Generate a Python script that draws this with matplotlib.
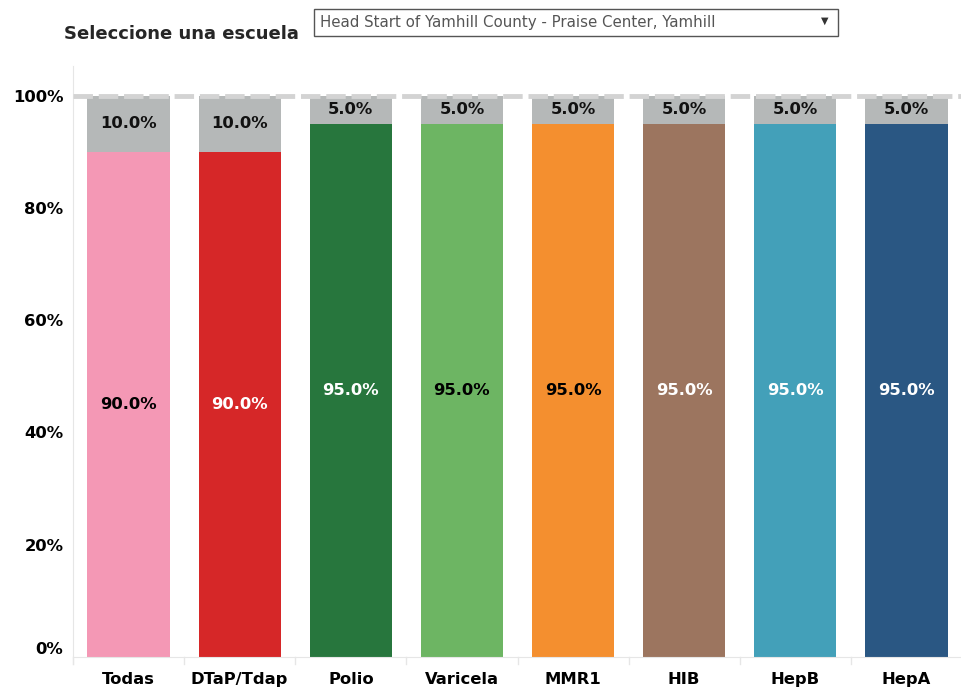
import matplotlib.pyplot as plt
from matplotlib.patches import Rectangle

# vaccine coverage for the selected school
vacunas = ['Todas', 'DTaP/Tdap', 'Polio', 'Varicela', 'MMR1', 'HIB', 'HepB', 'HepA']
completas = [90.0, 90.0, 95.0, 95.0, 95.0, 95.0, 95.0, 95.0]
faltantes = [10.0, 10.0, 5.0, 5.0, 5.0, 5.0, 5.0, 5.0]

colores = ['#F498B5', '#D62728', '#27763D', '#6DB563', '#F48F2F', '#9C755F', '#43A0B9', '#2A5783']
color_texto = ['black', 'white', 'white', 'black', 'black', 'white', 'white', 'white']
gris = '#B5B8B8'

plt.rcParams['font.family'] = ['DejaVu Sans']

fig = plt.figure(figsize=(9.62, 6.87), dpi=100)
ax = fig.add_axes([73 / 962, 30 / 687, 889 / 962, 591 / 687])

x = list(range(len(vacunas)))
ax.bar(x, completas, width=0.74, color=colores, zorder=2)
ax.bar(x, faltantes, width=0.74, bottom=completas, color=gris, zorder=2)

for i in x:
    ax.text(i, completas[i] / 2, f'{completas[i]:.1f}%', ha='center', va='center',
            fontsize=11.8, fontweight='bold', color=color_texto[i], zorder=3)
    ax.text(i, completas[i] + faltantes[i] / 2, f'{faltantes[i]:.1f}%', ha='center', va='center',
            fontsize=11.8, fontweight='bold', color='#111111', zorder=3)

ax.axhline(100, color='#D3D3D3', lw=3.5, ls=(0, (4, 1.2)), zorder=4)

ax.set_xlim(-0.5, len(vacunas) - 0.5)
ax.set_ylim(0, 105.3)
ax.set_yticks([0, 20, 40, 60, 80, 100])
ax.set_yticklabels(['0%', '20%', '40%', '60%', '80%', '100%'], fontsize=11.8, fontweight='bold')
ax.get_yticklabels()[0].set_va('bottom')
ax.set_xticks(x)
ax.set_xticklabels(vacunas, fontsize=11.8, fontweight='bold')
ax.tick_params(axis='y', length=0, pad=7)
ax.tick_params(axis='x', length=0, pad=11)

for s in ['top', 'right']:
    ax.spines[s].set_visible(False)
ax.spines['left'].set_color('#E6E6E6')
ax.spines['bottom'].set_color('#E6E6E6')
ax.spines['left'].set_bounds(-1.2, 105.3)

for b in range(len(vacunas) + 1):
    ax.plot([b - 0.5, b - 0.5], [0, -1.2], color='#E6E6E6', lw=1, clip_on=False)

# header with the school selector
fig.text(64 / 962, 1 - 34 / 687, 'Seleccione una escuela', fontsize=13, fontweight='bold',
         color='#262626', va='center', ha='left')
fig.patches.append(Rectangle((314 / 962, 1 - 36 / 687), 524 / 962, 27 / 687,
                             transform=fig.transFigure, fill=False, ec='#555555', lw=1))
fig.text(320 / 962, 1 - 22 / 687, 'Head Start of Yamhill County - Praise Center, Yamhill',
         fontsize=10.8, color='#555555', va='center', ha='left')
fig.text(825 / 962, 1 - 21 / 687, '▼', fontsize=7, color='#333333', va='center', ha='center')

plt.savefig('out.png')
